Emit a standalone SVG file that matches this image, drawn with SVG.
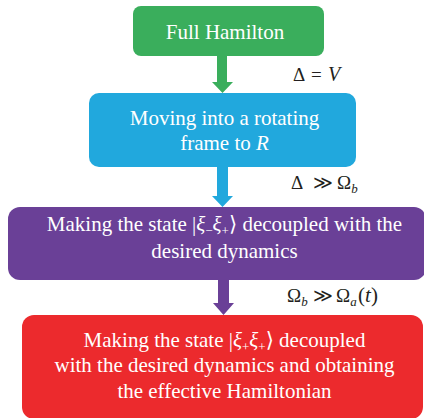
<svg xmlns="http://www.w3.org/2000/svg" width="424" height="418" viewBox="0 0 424 418">
  <style>
    text { font-family: 'Liberation Serif', Tinos, 'Times New Roman', Times, 'DejaVu Serif', serif; }
    .lbl { font-size: 21px; fill: #ffffff; text-anchor: middle; }
    .math { font-size: 19px; fill: #231f20; }
    .it { font-style: italic; }
    .sub { font-size: 13px; }
  </style>
  <rect width="424" height="418" fill="#ffffff"/>

  <!-- connectors: block arrows between the stages, with their conditions -->
  <g id="connectors">
    <path d="M217,56 H227 V82 H233 L222.5,93 L212,82 H217 Z" fill="#3aae5c"/>
    <path d="M217,167 H228 V196 H233 L222.5,207 L212,196 H217 Z" fill="#21a8dd"/>
    <path d="M218,280 H229 V303 H234 L223.5,315 L213,303 H218 Z" fill="#6a4097"/>
    <text class="math" x="293" y="81">Δ<tspan x="311">=</tspan><tspan x="328" class="it" font-size="20">V</tspan></text>
    <text class="math" x="291" y="189">Δ<tspan x="313">≫</tspan><tspan x="337">Ω</tspan><tspan class="it sub" dy="4">b</tspan></text>
    <text class="math" x="287" y="302">Ω<tspan class="it sub" dy="4">b</tspan><tspan x="313" dy="-4">≫</tspan><tspan x="336">Ω</tspan><tspan class="it sub" dy="4">a</tspan><tspan x="358" dy="-4" font-size="21">(</tspan><tspan x="365" class="it" font-size="21">t</tspan><tspan x="371" font-size="21">)</tspan></text>
  </g>

  <g id="full-hamilton">
    <rect x="133" y="6" width="191" height="50" rx="8" fill="#3aae5c"/>
    <text class="lbl" x="225" y="39">Full Hamilton</text>
  </g>

  <g id="rotating-frame">
    <rect x="89" y="93" width="267" height="74" rx="10" fill="#21a8dd"/>
    <text class="lbl" x="224.5" y="125">Moving into a rotating</text>
    <text class="lbl" x="224.5" y="150">frame to <tspan class="it">R</tspan></text>
  </g>

  <g id="decouple-minus-plus">
    <rect x="8" y="207" width="418" height="73" rx="12" fill="#6a4097"/>
    <text class="lbl" x="224.5" y="231">Making the state |<tspan class="it">ξ</tspan><tspan class="sub" dy="4">−</tspan><tspan class="it" dy="-4">ξ</tspan><tspan class="sub" dy="4">+</tspan><tspan dy="-4">⟩ decoupled with the</tspan></text>
    <text class="lbl" x="224.5" y="258">desired dynamics</text>
  </g>

  <g id="effective-hamiltonian">
    <rect x="22" y="315" width="401" height="104" rx="12" fill="#ec2a2d"/>
    <text class="lbl" x="224.5" y="347">Making the state |<tspan class="it">ξ</tspan><tspan class="sub" dy="4">+</tspan><tspan class="it" dy="-4">ξ</tspan><tspan class="sub" dy="4">+</tspan><tspan dy="-4">⟩ decoupled</tspan></text>
    <text class="lbl" x="224.5" y="372">with the desired dynamics and obtaining</text>
    <text class="lbl" x="224.5" y="398">the effective Hamiltonian</text>
  </g>
</svg>
